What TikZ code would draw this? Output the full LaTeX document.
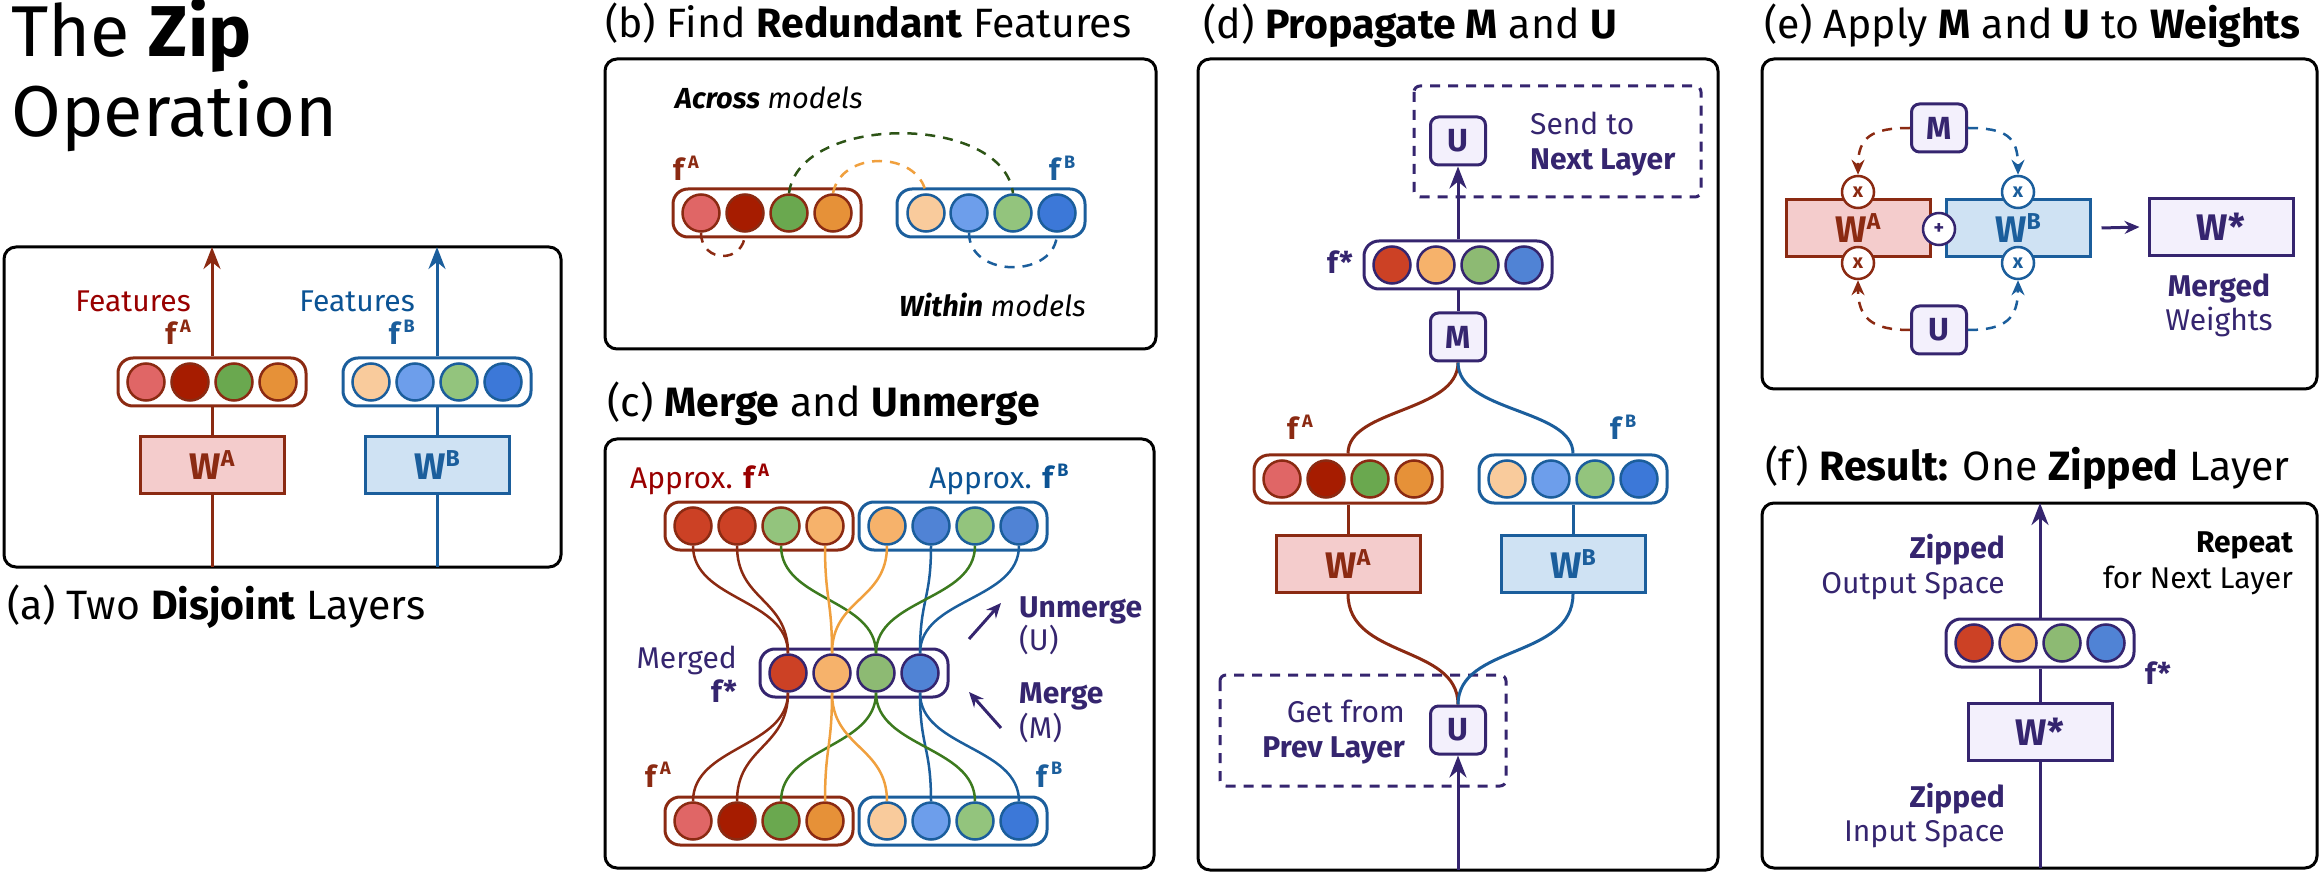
\documentclass[tikz,border=0pt]{standalone}
\usepackage{fontspec}
\setmainfont{Fira Sans}
\usetikzlibrary{arrows.meta}
\definecolor{rd}{HTML}{8B2A12}
\definecolor{bd}{HTML}{1B5E9C}
\definecolor{pp}{HTML}{35256F}
\definecolor{rfill}{HTML}{F4CCCC}
\definecolor{bfill}{HTML}{CFE2F3}
\definecolor{pfill}{HTML}{F3F0FC}
\definecolor{cAa}{HTML}{E06666}
\definecolor{cAb}{HTML}{A61C00}
\definecolor{cAc}{HTML}{6AA84F}
\definecolor{cAd}{HTML}{E69138}
\definecolor{cBa}{HTML}{F9CB9C}
\definecolor{cBb}{HTML}{6D9EEB}
\definecolor{cBc}{HTML}{93C47D}
\definecolor{cBd}{HTML}{3C78D8}
\definecolor{cMa}{HTML}{CC4125}
\definecolor{cMb}{HTML}{F6B26B}
\definecolor{cMc}{HTML}{8DBA73}
\definecolor{cMd}{HTML}{5083D5}
\definecolor{lgr}{HTML}{3C7A1E}
\definecolor{lor}{HTML}{F0A03E}
\definecolor{dgr}{HTML}{2D5416}
\definecolor{redtxt}{HTML}{990000}
\definecolor{bluetxt}{HTML}{0B5394}
\newcommand\fsz[1]{\fontsize{#1}{#1}\selectfont}
\newcommand\fsup[1]{\textbf{f}\kern2pt\raisebox{0.42em}{\fsz{18}\bfseries #1}}
\newcommand\wsup[1]{\textbf{W}\raisebox{0.36em}{\fsz{23}\bfseries #1}}
\tikzset{
  panel/.style={draw=black, line width=3pt, rounded corners=12pt},
  caps/.style={draw=#1, line width=3pt, rounded corners=15pt, fill=white, minimum width=188pt, minimum height=48pt},
  dot/.style={circle, draw=#1, line width=2.5pt, minimum size=37pt},
  wbox/.style={draw=#1, line width=3pt, minimum width=144pt, minimum height=57pt, font=\fsz{37}, text=#1},
  opbox/.style={draw=pp, fill=pfill, line width=3pt, rounded corners=8pt, minimum width=55pt, minimum height=48pt, font=\fsz{32}\bfseries, text=pp},
  xcirc/.style={circle, draw=#1, fill=white, line width=2.5pt, minimum size=32pt, font=\fsz{20}\bfseries, text=#1},
  arr/.style={-{Stealth[length=22pt,width=17pt,inset=7pt]}},
  sarr/.style={-{Stealth[length=15pt,width=13pt,inset=5pt]}},
  wire/.style={line width=3pt},
  thin/.style={line width=2.5pt},
  dsh/.style={line width=2.5pt, dash pattern=on 10pt off 8pt},
  dbox/.style={draw=pp, line width=3pt, dash pattern=on 10pt off 8pt, rounded corners=6pt},
  capt/.style={anchor=base west, font=\fsz{41}},
}
\begin{document}
\begin{tikzpicture}[x=1pt, y=-1pt, inner sep=0pt, font=\fsz{30}]
\useasboundingbox (0,0) rectangle (2322,874);
% ---------------- title
\node[anchor=base west, font=\fsz{72}] (t1) at (11,57) {The \textbf{Zip}};
\node[anchor=base west, font=\fsz{72}] (t2) at (11,137) {Operation};
% ---------------- panel a
\draw[panel] (4,247) rectangle (561,567);
\node[capt] (capa) at (7,619) {(a) Two \textbf{Disjoint} Layers};
\coordinate (aAin) at (212,567); \coordinate (aAout) at (212,247);
\coordinate (aBin) at (437,567); \coordinate (aBout) at (437,247);
\node[caps=rd] (aCA) at (212,382) {};
\node[caps=bd] (aCB) at (437,382) {};
\foreach \i/\x/\c in {1/146/cAa,2/190/cAb,3/234/cAc,4/278/cAd}
  \node[dot=rd, fill=\c] (aA\i) at (\x,382) {};
\foreach \i/\x/\c in {1/371/cBa,2/415/cBb,3/459/cBc,4/503/cBd}
  \node[dot=bd, fill=\c] (aB\i) at (\x,382) {};
\node[wbox=rd, fill=rfill] (aWA) at (212,465) {\wsup{A}};
\node[wbox=bd, fill=bfill] (aWB) at (437,465) {\wsup{B}};
\draw[rd, wire] (aAin) -- (aWA.south) (aWA.north) -- (aCA.south);
\draw[rd, wire, arr] (aCA.north) -- (aAout);
\draw[bd, wire] (aBin) -- (aWB.south) (aWB.north) -- (aCB.south);
\draw[bd, wire, arr] (aCB.north) -- (aBout);
\node[anchor=base east, text=redtxt] (aFA) at (191,312) {Features};
\node[anchor=base east, text=rd] (afA) at (191,345) {\fsup{A}};
\node[anchor=base east, text=bluetxt] (aFB) at (415,312) {Features};
\node[anchor=base east, text=bd] (afB) at (415,345) {\fsup{B}};
% ---------------- panel b
\draw[panel] (605,59) rectangle (1156,349);
\node[capt] (capb) at (605,38) {(b) Find \textbf{Redundant} Features};
\node[anchor=base west, font=\fsz{29}\itshape] (bacr) at (675,109) {\textbf{Across} models};
\node[anchor=base east, font=\fsz{29}\itshape] (bwit) at (1086,317) {\textbf{Within} models};
\node[caps=rd] (bCA) at (767,213) {};
\node[caps=bd] (bCB) at (991,213) {};
\foreach \i/\x/\c in {1/701/cAa,2/745/cAb,3/789/cAc,4/833/cAd}
  \node[dot=rd, fill=\c] (bA\i) at (\x,213) {};
\foreach \i/\x/\c in {1/926/cBa,2/969/cBb,3/1013/cBc,4/1057/cBd}
  \node[dot=bd, fill=\c] (bB\i) at (\x,213) {};
\node[anchor=base west, text=rd] (bfA) at (673,181) {\fsup{A}};
\node[anchor=base west, text=bd] (bfB) at (1049,181) {\fsup{B}};
\draw[dgr, dsh] (bA3.north) .. controls +(10,-80) and +(-10,-80) .. (bB3.north);
\draw[lor, dsh] (bA4.north) .. controls +(8,-43) and +(-8,-43) .. (bB1.north);
\draw[rd, dsh] (bA1.south) .. controls +(0,31) and +(0,31) .. (bA2.south);
\draw[bd, dsh] (bB2.south) .. controls +(0,46) and +(0,46) .. (bB4.south);
% ---------------- panel c
\draw[panel] (605,439) rectangle (1154,868);
\node[capt] (capc) at (607,417) {(c) \textbf{Merge} and \textbf{Unmerge}};
\node[anchor=base west, text=redtxt] (cApA) at (630,489) {Approx. \fsup{A}};
\node[anchor=base west, text=bluetxt] (cApB) at (929,489) {Approx. \fsup{B}};
\node[caps=rd] (cTA) at (759,526) {};
\node[caps=bd] (cTB) at (953,526) {};
\node[caps=pp] (cMC) at (854,673) {};
\node[caps=rd] (cBA) at (759,821) {};
\node[caps=bd] (cBB) at (953,821) {};
\foreach \i/\x/\c in {1/693/cMa,2/737/cMa,3/781/cBc,4/825/cMb}
  \node[dot=rd, fill=\c] (tA\i) at (\x,526) {};
\foreach \i/\x/\c in {1/887/cMb,2/931/cMd,3/975/cBc,4/1019/cMd}
  \node[dot=bd, fill=\c] (tB\i) at (\x,526) {};
\foreach \i/\x/\c in {1/788/cMa,2/832/cMb,3/876/cMc,4/920/cMd}
  \node[dot=pp, fill=\c] (mm\i) at (\x,673) {};
\foreach \i/\x/\c in {1/693/cAa,2/737/cAb,3/781/cAc,4/825/cAd}
  \node[dot=rd, fill=\c] (oA\i) at (\x,821) {};
\foreach \i/\x/\c in {1/887/cBa,2/931/cBb,3/975/cBc,4/1019/cBd}
  \node[dot=bd, fill=\c] (oB\i) at (\x,821) {};
\foreach \s/\t/\c in {tA1/mm1/rd, tA2/mm1/rd, tA3/mm3/lgr, tA4/mm2/lor, tB1/mm2/lor, tB2/mm4/bd, tB3/mm3/lgr, tB4/mm4/bd}
  \draw[\c, thin] (\s.south) .. controls +(0,55) and +(0,-55) .. (\t.north);
\foreach \s/\t/\c in {mm1/oA1/rd, mm1/oA2/rd, mm3/oA3/lgr, mm2/oA4/lor, mm2/oB1/lor, mm4/oB2/bd, mm3/oB3/lgr, mm4/oB4/bd}
  \draw[\c, thin] (\s.south) .. controls +(0,55) and +(0,-55) .. (\t.north);
\node[anchor=base east, text=pp] (cMg) at (737,668) {Merged};
\node[anchor=base east, text=pp] (cfs) at (737,702) {\textbf{f*}};
\node[anchor=base west, text=rd] (cfA) at (645,787) {\fsup{A}};
\node[anchor=base west, text=bd] (cfB) at (1036,787) {\fsup{B}};
\coordinate (cu1) at (969,639); \coordinate (cu2) at (1001,603);
\coordinate (cm1) at (1001,728); \coordinate (cm2) at (969,692);
\draw[pp, wire, sarr] (cu1) -- (cu2);
\draw[pp, wire, sarr] (cm1) -- (cm2);
\node[anchor=base west, text=pp, font=\fsz{30}\bfseries] (cUn) at (1019,617) {Unmerge};
\node[anchor=base west, text=pp] (cUl) at (1019,650) {(U)};
\node[anchor=base west, text=pp, font=\fsz{30}\bfseries] (cMe) at (1019,703) {Merge};
\node[anchor=base west, text=pp] (cMl) at (1019,738) {(M)};
% ---------------- panel d
\draw[panel] (1198,59) rectangle (1718,870);
\node[capt] (capd) at (1203,39) {(d) \textbf{Propagate M} and \textbf{U}};
\draw[dbox] (1414,86) rectangle (1701,197);
\draw[dbox] (1220,675) rectangle (1506,786);
\node[opbox] (dUt) at (1458,141) {U};
\node[opbox] (dM) at (1458,337) {M};
\node[opbox] (dUb) at (1458,730) {U};
\node[caps=pp] (dF) at (1458,265) {};
\foreach \i/\x/\c in {1/1392/cMa,2/1436/cMb,3/1480/cMc,4/1524/cMd}
  \node[dot=pp, fill=\c] (dF\i) at (\x,265) {};
\node[caps=rd] (dCA) at (1348,479) {};
\node[caps=bd] (dCB) at (1573,479) {};
\foreach \i/\x/\c in {1/1282/cAa,2/1326/cAb,3/1370/cAc,4/1414/cAd}
  \node[dot=rd, fill=\c] (dA\i) at (\x,479) {};
\foreach \i/\x/\c in {1/1507/cBa,2/1551/cBb,3/1595/cBc,4/1639/cBd}
  \node[dot=bd, fill=\c] (dB\i) at (\x,479) {};
\node[wbox=rd, fill=rfill] (dWA) at (1348,564) {\wsup{A}};
\node[wbox=bd, fill=bfill] (dWB) at (1573,564) {\wsup{B}};
\coordinate (dIn) at (1458,870);
\draw[pp, wire, arr] (dF.north) -- (dUt.south);
\draw[pp, wire] (dF.south) -- (dM.north);
\draw[rd, wire] (dM.south) .. controls +(0,50) and +(0,-45) .. (dCA.north);
\draw[bd, wire] (dM.south) .. controls +(0,50) and +(0,-45) .. (dCB.north);
\draw[rd, wire] (dCA.south) -- (dWA.north);
\draw[bd, wire] (dCB.south) -- (dWB.north);
\draw[rd, wire] (dWA.south) .. controls +(0,65) and +(0,-60) .. (dUb.north);
\draw[bd, wire] (dWB.south) .. controls +(0,65) and +(0,-60) .. (dUb.north);
\draw[pp, wire, arr] (dIn) -- (dUb.south);
\node[anchor=base west, text=pp] (dS1) at (1530,135) {Send to};
\node[anchor=base west, text=pp, font=\fsz{30}\bfseries] (dS2) at (1530,170) {Next Layer};
\node[anchor=base west, text=pp] (dfs) at (1327,274) {\textbf{f*}};
\node[anchor=base west, text=rd] (dfA) at (1287,440) {\fsup{A}};
\node[anchor=base west, text=bd] (dfB) at (1610,440) {\fsup{B}};
\node[anchor=base east, text=pp] (dG1) at (1405,722) {Get from};
\node[anchor=base east, text=pp, font=\fsz{30}\bfseries] (dG2) at (1405,757) {Prev Layer};
% ---------------- panel e
\draw[panel] (1762,59) rectangle (2317,389);
\node[capt] (cape) at (1764,39) {(e) Apply \textbf{M} and \textbf{U} to \textbf{Weights}};
\node[wbox=rd, fill=rfill] (eWA) at (1858,228) {\wsup{A}};
\node[wbox=bd, fill=bfill] (eWB) at (2018,228) {\wsup{B}};
\node[wbox=pp, fill=pfill] (eWs) at (2221,227) {\textbf{W*}};
\node[opbox] (eM) at (1939,128) {M};
\node[opbox] (eU) at (1939,330) {U};
\node[xcirc=rd] (exA1) at (1858,192) {x};
\node[xcirc=bd] (exB1) at (2018,192) {x};
\node[xcirc=rd] (exA2) at (1858,263) {x};
\node[xcirc=bd] (exB2) at (2018,263) {x};
\node[xcirc=pp] (epl) at (1939,229) {+};
\draw[rd, dsh, sarr] (eM.west) .. controls +(-38,0) and +(0,-38) .. (exA1.north);
\draw[bd, dsh, sarr] (eM.east) .. controls +(38,0) and +(0,-38) .. (exB1.north);
\draw[rd, dsh, sarr] (eU.west) .. controls +(-38,0) and +(0,38) .. (exA2.south);
\draw[bd, dsh, sarr] (eU.east) .. controls +(38,0) and +(0,38) .. (exB2.south);
\draw[pp, wire, sarr] ([xshift=10pt]eWB.east) -- ([xshift=-8pt]eWs.west);
\node[anchor=base, text=pp, font=\fsz{30}\bfseries] (eMg) at (2219,297) {Merged};
\node[anchor=base, text=pp] (eWt) at (2219,331) {Weights};
% ---------------- panel f
\draw[panel] (1762,503) rectangle (2317,868);
\node[capt] (capf) at (1765,481) {(f) \textbf{Result:} One \textbf{Zipped} Layer};
\node[caps=pp] (fC) at (2040,643) {};
\foreach \i/\x/\c in {1/1974/cMa,2/2018/cMb,3/2062/cMc,4/2106/cMd}
  \node[dot=pp, fill=\c] (fC\i) at (\x,643) {};
\node[wbox=pp, fill=pfill] (fW) at (2040,732) {\textbf{W*}};
\coordinate (fIn) at (2040,868); \coordinate (fOut) at (2040,503);
\draw[pp, wire] (fIn) -- (fW.south) (fW.north) -- (fC.south);
\draw[pp, wire, arr] (fC.north) -- (fOut);
\node[anchor=base east, text=pp, font=\fsz{30}\bfseries] (fZ1) at (2005,558) {Zipped};
\node[anchor=base east, text=pp] (fO) at (2005,593) {Output Space};
\node[anchor=base east, font=\fsz{30}\bfseries] (fR) at (2293,552) {Repeat};
\node[anchor=base east] (fN) at (2293,588) {for Next Layer};
\node[anchor=base west, text=pp] (ffs) at (2145,684) {\textbf{f*}};
\node[anchor=base east, text=pp, font=\fsz{30}\bfseries] (fZ2) at (2005,807) {Zipped};
\node[anchor=base east, text=pp] (fI) at (2005,841) {Input Space};
\end{tikzpicture}
\end{document}
